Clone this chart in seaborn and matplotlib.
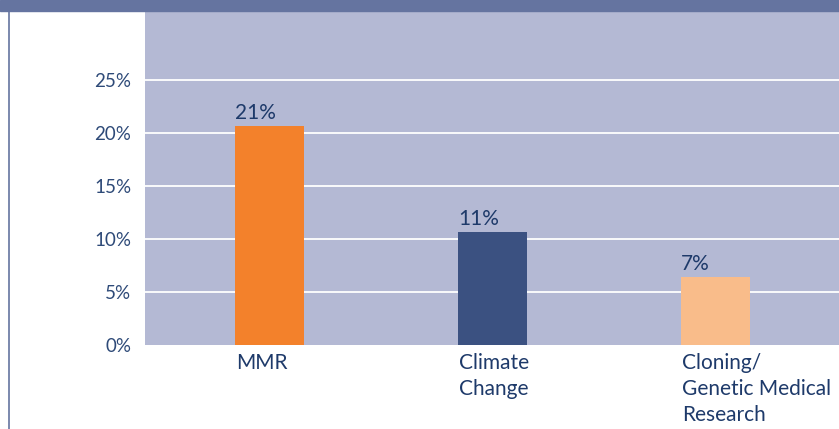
import matplotlib
matplotlib.use("Agg")
import matplotlib.pyplot as plt
import seaborn as sns
import pandas as pd
from matplotlib.patches import Rectangle
from matplotlib.lines import Line2D

# data
categories = ["MMR", "Climate\nChange", "Cloning/\nGenetic Medical\nResearch"]
values = [20.7, 10.7, 6.4]
value_labels = ["21%", "11%", "7%"]
bar_colors = ["#F3812B", "#3B5181", "#F9BC8A"]
yticks = [0, 5, 10, 15, 20, 25]
ytick_labels = ["0%", "5%", "10%", "15%", "20%", "25%"]

text_col = "#1E3A6A"
bg_col = "#B4B9D4"
band_col = "#6574A0"

sns.set_style("white")
plt.rcParams["font.family"] = ["Lato", "DejaVu Sans"]

df = pd.DataFrame({"topic": categories, "share": values})

fig = plt.figure(figsize=(8.39, 4.29), dpi=100)
W, H = 839, 429
ax = fig.add_axes([145 / W, (H - 345) / H, 694 / W, 334 / H])
ax.set_facecolor(bg_col)

bw = 0.31
sns.barplot(data=df, x="topic", y="share", hue="topic", palette=bar_colors,
            width=bw, legend=False, ax=ax, saturation=1, linewidth=0, zorder=3)

ax.set_xlim(-0.558, 2.554)
ax.set_ylim(0, 31.5)
ax.set_yticks(yticks)
ax.set_yticklabels(ytick_labels, fontsize=13.5)
ax.tick_params(axis="y", length=0, pad=10, labelcolor="#2E4A78")
ax.set_xticks([])
ax.set_xlabel("")
ax.set_ylabel("")
for s in ax.spines.values():
    s.set_visible(False)

# white gridlines
for t in yticks[1:]:
    ax.axhline(t, color="white", lw=1.3, zorder=1)

# value labels, left aligned at bar edge
for i, (v, lab) in enumerate(zip(values, value_labels)):
    ax.text(i - bw / 2, v + 0.25, lab, ha="left", va="bottom",
            fontsize=15, color=text_col, zorder=4)

# category labels below the axis
trans = ax.get_xaxis_transform()
for i, c in enumerate(categories):
    ax.text(i - bw / 2 + 0.005, -0.025, c, transform=trans, ha="left", va="top",
            fontsize=15, color=text_col, linespacing=1.35, clip_on=False)

# top band and left rule
fig.patches.append(Rectangle((0, (H - 11) / H), 1, 11 / H, transform=fig.transFigure,
                             color=band_col, zorder=5))
fig.lines.append(Line2D([8.5 / W, 8.5 / W], [0, 1], transform=fig.transFigure,
                        color=band_col, lw=1.2))

fig.savefig("out.png", dpi=100)
